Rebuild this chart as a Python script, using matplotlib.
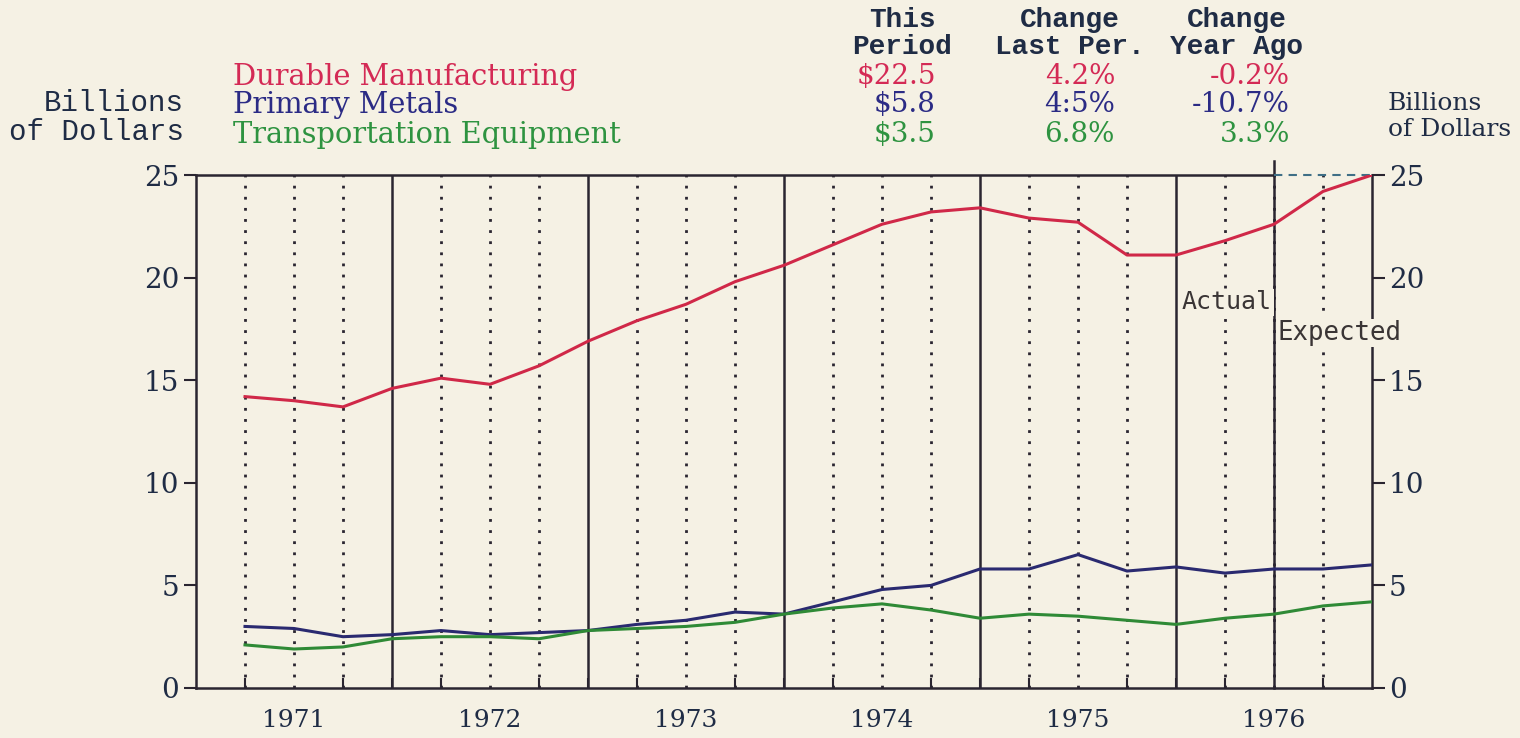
import matplotlib.pyplot as plt

# quarterly values, billions of dollars (1971 Q1 .. 1976 Q4)
quarters = [1971 + 0.25 * (i + 1) for i in range(24)]
durable = [14.2, 14.0, 13.7, 14.6, 15.1, 14.8, 15.7, 16.9, 17.9, 18.7, 19.8, 20.6,
           21.6, 22.6, 23.2, 23.4, 22.9, 22.7, 21.1, 21.1, 21.8, 22.6, 24.2, 25.0]
metals = [3.0, 2.9, 2.5, 2.6, 2.8, 2.6, 2.7, 2.8, 3.1, 3.3, 3.7, 3.6,
          4.2, 4.8, 5.0, 5.8, 5.8, 6.5, 5.7, 5.9, 5.6, 5.8, 5.8, 6.0]
transport = [2.1, 1.9, 2.0, 2.4, 2.5, 2.5, 2.4, 2.8, 2.9, 3.0, 3.2, 3.6,
             3.9, 4.1, 3.8, 3.4, 3.6, 3.5, 3.3, 3.1, 3.4, 3.6, 4.0, 4.2]

series_names = ['Durable Manufacturing', 'Primary Metals', 'Transportation Equipment']
this_period = ['$22.5', '$5.8', '$3.5']
change_last = ['4.2%', '4:5%', '6.8%']
change_year = ['-0.2%', '-10.7%', '3.3%']
year_labels = ['1971', '1972', '1973', '1974', '1975', '1976']

bg = '#f5f1e4'
ink = '#2a2530'
navy = '#1f2c45'
colors = ['#d42a55', '#2b2b85', '#2e9340']
line_colors = ['#d02848', '#2a2a70', '#2f8a36']

W, H = 1520, 738
fig = plt.figure(figsize=(W / 100, H / 100), dpi=100, facecolor=bg)
ax = fig.add_axes([196 / W, 1 - 688 / H, (1372 - 196) / W, (688 - 175) / H])
ax.set_facecolor(bg)


def px(x, y):
    return x / W, 1 - y / H


# vertical grid: solid at year boundaries, dotted at quarters
for q in range(1, 24):
    xv = 1971 + 0.25 * q
    if q % 4 == 0:
        ax.axvline(xv, color=ink, lw=1.8, zorder=1)
    else:
        ax.axvline(xv, color=ink, lw=2.0, ls=(0, (1, 3)), zorder=1)

# actual / expected divider
ax.plot([1976.5, 1976.5], [0, 25.7], color=ink, lw=1.8, clip_on=False, zorder=1)

for vals, c in zip([durable, metals, transport], line_colors):
    ax.plot(quarters, vals, color=c, lw=2.2, zorder=4)

ax.set_xlim(1971, 1977)
ax.set_ylim(0, 25)

# top border: solid for actual, dashed for expected
ax.spines['top'].set_visible(False)
ax.plot([1971, 1976.5], [25, 25], color=ink, lw=1.8, clip_on=False, zorder=2)
ax.plot([1976.5, 1977], [25, 25], color='#3f6f86', lw=1.5, ls=(0, (4, 3)),
        clip_on=False, zorder=2)
for s in ['left', 'right', 'bottom']:
    ax.spines[s].set_color(ink)
    ax.spines[s].set_linewidth(1.8)

ax.set_yticks([0, 5, 10, 15, 20, 25])
ax.tick_params(axis='y', which='both', direction='out', length=9, width=1.5,
               color=ink, labelsize=20, labelcolor=navy, left=True, right=True,
               labelleft=True, labelright=True, pad=3)
for lab in ax.get_yticklabels():
    lab.set_family('DejaVu Serif')

ax.set_xticks([y + 0.5 for y in range(1971, 1977)])
ax.set_xticklabels(year_labels, family='DejaVu Serif', fontsize=18, color=navy)
ax.tick_params(axis='x', which='major', length=0, pad=15)
ax.set_xticks([1971 + 0.25 * q for q in range(1, 24)], minor=True)
ax.tick_params(axis='x', which='minor', direction='in', length=7, width=1.5, color=ink)

# actual / expected labels
ax.text(1976.49, 18.8, 'Actual', ha='right', va='center', family='DejaVu Sans Mono',
        fontsize=18, color='#3a3535', zorder=3,
        bbox=dict(facecolor=bg, edgecolor='none', pad=1))
ax.text(1976.52, 17.3, 'Expected', ha='left', va='center', family='DejaVu Sans Mono',
        fontsize=18.5, color='#3a3535', zorder=3, clip_on=False,
        bbox=dict(facecolor=bg, edgecolor='none', pad=1))

# axis titles
fig.text(*px(184, 103), 'Billions', ha='right', va='center', family='Liberation Mono',
         fontsize=21, color=navy)
fig.text(*px(184, 132), 'of Dollars', ha='right', va='center', family='Liberation Mono',
         fontsize=21, color=navy)
fig.text(*px(1388, 103), 'Billions', ha='left', va='center', family='DejaVu Serif',
         fontsize=18, color=navy)
fig.text(*px(1388, 130), 'of Dollars', ha='left', va='center', family='DejaVu Serif',
         fontsize=18, color=navy)

# legend table
headers = [('This', 'Period', 902), ('Change', 'Last Per.', 1070), ('Change', 'Year Ago', 1237)]
for top, bottom, xc in headers:
    fig.text(*px(xc, 20), top, ha='center', va='center', family='Liberation Mono',
             fontsize=20, color=navy, weight='bold')
    fig.text(*px(xc, 47), bottom, ha='center', va='center', family='Liberation Mono',
             fontsize=20, color=navy, weight='bold')

rows_y = [77, 105, 135]
for i in range(3):
    y = rows_y[i]
    fig.text(*px(233, y), series_names[i], ha='left', va='center', family='DejaVu Serif',
             fontsize=20.8, color=colors[i])
    fig.text(*px(936, y), this_period[i], ha='right', va='center', family='DejaVu Serif',
             fontsize=20, color=colors[i])
    fig.text(*px(1115, y), change_last[i], ha='right', va='center', family='DejaVu Serif',
             fontsize=20, color=colors[i])
    fig.text(*px(1290, y), change_year[i], ha='right', va='center', family='DejaVu Serif',
             fontsize=20, color=colors[i])

fig.savefig('out.png', dpi=100, facecolor=bg)
